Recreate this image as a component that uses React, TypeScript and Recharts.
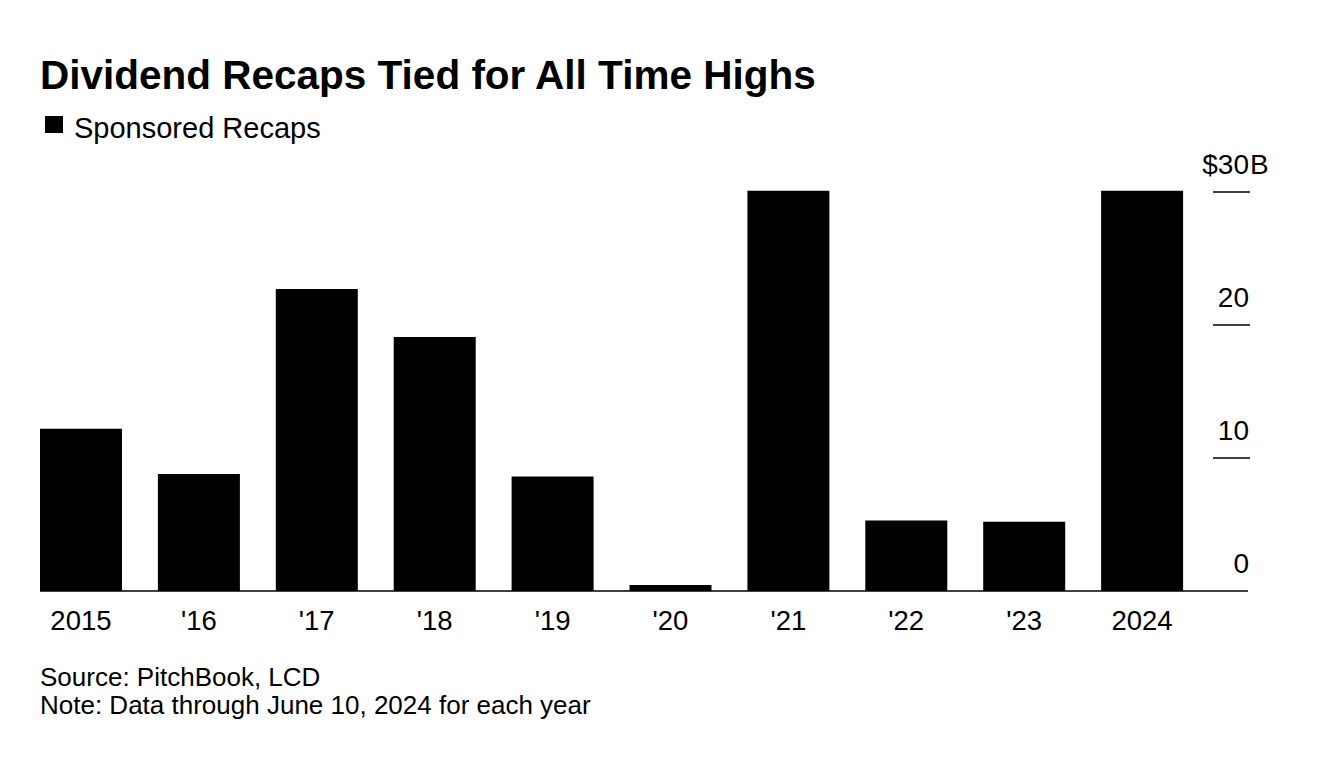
import React from 'react'
import { BarChart, Bar, XAxis, YAxis } from 'recharts'

const years = ['2015', "'16", "'17", "'18", "'19", "'20", "'21", "'22", "'23", '2024']
const recaps = [12.2, 8.8, 22.7, 19.1, 8.6, 0.45, 30.1, 5.3, 5.2, 30.1]
const yTicks = [0, 10, 20, 30]

const data = years.map((year, i) => ({ year, recaps: recaps[i] }))

const FONT = '"Liberation Sans", Arial, Helvetica, sans-serif'
const PLOT_RIGHT = 1248

const YTick = (props: any) => {
  const { y, payload } = props
  const v = payload.value
  const top = v === yTicks[yTicks.length - 1]
  return (
    <g>
      {v > 0 && (
        <line x1={PLOT_RIGHT - 35} x2={PLOT_RIGHT + 2} y1={y} y2={y} stroke="#000" strokeWidth={1.5} />
      )}
      <text x={PLOT_RIGHT + 1} y={y - 18} textAnchor="end" fontSize={28} fill="#000" fontFamily={FONT}>
        {top ? '$' + v : v}
      </text>
      {top && (
        <text x={PLOT_RIGHT + 2} y={y - 18} textAnchor="start" fontSize={28} fill="#000" fontFamily={FONT}>
          B
        </text>
      )}
    </g>
  )
}

const XTick = (props: any) => {
  const { x, y, payload } = props
  return (
    <text x={x} y={y + 39} textAnchor="middle" fontSize={27.5} fill="#000" fontFamily={FONT}>
      {payload.value}
    </text>
  )
}

export default function App() {
  return (
    <div style={{ position: 'absolute', left: 0, top: 0, width: 1328, height: 762, background: '#fff', fontFamily: FONT, color: '#000' }}>
      <div style={{ position: 'absolute', left: 40, top: 51, fontSize: 40.5, fontWeight: 700, whiteSpace: 'nowrap', lineHeight: '48px' }}>
        Dividend Recaps Tied for All Time Highs
      </div>
      <div style={{ position: 'absolute', left: 45, top: 116, width: 18, height: 17, background: '#000' }} />
      <div style={{ position: 'absolute', left: 74, top: 111, fontSize: 29, whiteSpace: 'nowrap', lineHeight: '34px' }}>
        Sponsored Recaps
      </div>
      <div style={{ position: 'absolute', left: 0, top: 0 }}>
        <BarChart
          width={1328}
          height={762}
          data={data}
          margin={{ top: 178.7, right: 0, left: 40, bottom: 111 }}
        >
          <XAxis
            dataKey="year"
            height={60}
            padding={{ left: -18, right: 47 }}
            tickLine={false}
            tickSize={0}
            tickMargin={0}
            axisLine={{ stroke: '#000', strokeWidth: 1.5 }}
            tick={<XTick />}
            interval={0}
          />
          <YAxis
            orientation="right"
            width={80}
            domain={[0, 31]}
            ticks={yTicks}
            axisLine={false}
            tickLine={false}
            tick={<YTick />}
            interval={0}
          />
          <Bar dataKey="recaps" fill="#000" barSize={82} isAnimationActive={false} />
        </BarChart>
      </div>
      <div style={{ position: 'absolute', left: 40, top: 663, fontSize: 26, lineHeight: '28px', whiteSpace: 'nowrap' }}>
        <div>Source: PitchBook, LCD</div>
        <div>Note: Data through June 10, 2024 for each year</div>
      </div>
    </div>
  )
}
